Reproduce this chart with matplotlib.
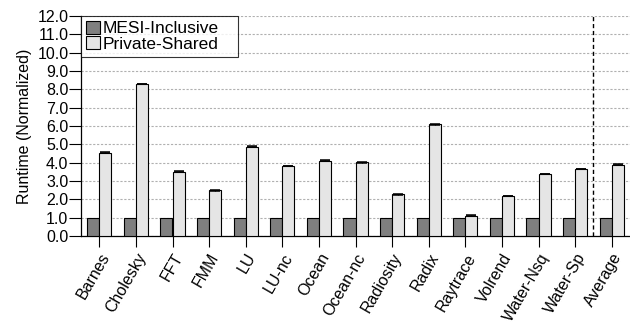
import matplotlib
matplotlib.use("Agg")
import matplotlib.pyplot as plt
import numpy as np

plt.rcParams['font.family'] = ['Liberation Sans', 'DejaVu Sans']

benchmarks = ["Barnes", "Cholesky", "FFT", "FMM", "LU", "LU-nc", "Ocean",
              "Ocean-nc", "Radiosity", "Radix", "Raytrace", "Volrend",
              "Water-Nsq", "Water-Sp", "Average"]
mesi_inclusive = [1.0] * 15
private_shared = [4.54, 8.29, 3.51, 2.49, 4.87, 3.82, 4.11, 4.02, 2.27,
                  6.09, 1.11, 2.18, 3.38, 3.64, 3.89]
private_shared_err = [0.03, 0.02, 0.03, 0.01, 0.03, 0.01, 0.02, 0.04, 0.01,
                      0.04, 0.01, 0.01, 0.01, 0.01, 0.03]
y_ticks = np.arange(0, 12.5, 1.0)

fig = plt.figure(figsize=(6.3, 3.25), dpi=100)
ax = fig.add_axes([81 / 630, 1 - 236 / 325, 549 / 630, 220 / 325])

x = np.arange(len(benchmarks))
w = 0.33
ax.bar(x - w / 2, mesi_inclusive, w, color="#7f7f7f", edgecolor="black",
       linewidth=0.8, label="MESI-Inclusive", zorder=3)
ax.bar(x + w / 2, private_shared, w, color="#e5e5e5", edgecolor="black",
       linewidth=0.8, label="Private-Shared", zorder=3)
ax.errorbar(x + w / 2, private_shared, yerr=private_shared_err, fmt="none",
            ecolor="black", elinewidth=0.8, capsize=3.5, capthick=1.1,
            zorder=4)

ax.axvline(13.5, color="black", linestyle=(0, (3, 2)), linewidth=1.0, zorder=2)

ax.set_xlim(-0.5, 14.5)
ax.set_ylim(0, 12.0)
ax.set_yticks(y_ticks)
ax.set_yticklabels([f"{v:.1f}" for v in y_ticks], fontsize=11.5)
ax.set_xticks(x)
ax.set_xticklabels(benchmarks, rotation=60, ha="right",
                   rotation_mode="anchor", fontsize=11.5)
ax.tick_params(axis="y", direction="out", length=8.5, width=0.8, pad=0.5)
ax.tick_params(axis="x", direction="out", length=8, width=0.8, pad=2.5)

ax.yaxis.grid(True, color="#b0b0b0", linestyle=(0, (2, 1.5)), linewidth=0.8)
ax.set_axisbelow(True)
for s in ["top", "right"]:
    ax.spines[s].set_visible(False)
ax.spines["left"].set_linewidth(0.9)
ax.spines["bottom"].set_linewidth(0.9)

ax.set_ylabel("Runtime (Normalized)", fontsize=11.5, labelpad=4)

leg = ax.legend(loc="upper left", bbox_to_anchor=(0, 1, 157 / 549, 0),
                mode="expand", fontsize=12.5, frameon=True, fancybox=False,
                borderaxespad=0, handlelength=0.8, handleheight=0.75,
                handletextpad=0.15, borderpad=0.28, labelspacing=0.0)
leg.get_frame().set_edgecolor("black")
leg.get_frame().set_linewidth(0.8)

fig.savefig("out.png", dpi=100)
